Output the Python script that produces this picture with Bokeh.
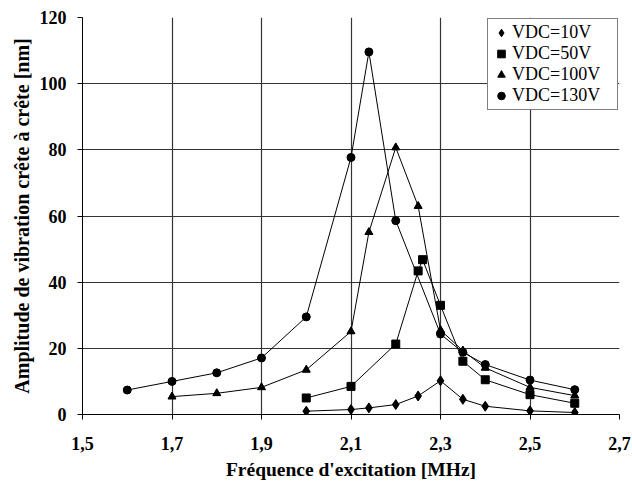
from bokeh.plotting import figure
from bokeh.embed import file_html
from bokeh.resources import INLINE
from bokeh.models import FixedTicker, Range1d, Legend, LegendItem

# ---- data ----
x_10 = [2.0, 2.1, 2.14, 2.2, 2.25, 2.3, 2.35, 2.4, 2.5, 2.6]
y_10 = [1.0, 1.5, 2.0, 3.0, 5.6, 10.2, 4.6, 2.5, 1.1, 0.6]

x_50 = [2.0, 2.1, 2.2, 2.25, 2.26, 2.3, 2.35, 2.4, 2.5, 2.6]
y_50 = [5.0, 8.5, 21.3, 43.4, 46.8, 33.0, 16.1, 10.5, 6.0, 3.4]

x_100 = [1.7, 1.8, 1.9, 2.0, 2.1, 2.14, 2.2, 2.25, 2.3, 2.35, 2.4, 2.5, 2.6]
y_100 = [5.4, 6.4, 8.2, 13.5, 25.1, 55.1, 80.7, 63.0, 25.5, 19.3, 14.1, 8.2, 5.7]

x_130 = [1.6, 1.7, 1.8, 1.9, 2.0, 2.1, 2.14, 2.2, 2.3, 2.35, 2.4, 2.5, 2.6]
y_130 = [7.4, 10.0, 12.6, 17.1, 29.5, 77.7, 109.6, 58.6, 24.3, 18.8, 15.1, 10.4, 7.5]

series_labels = ["VDC=10V", "VDC=50V", "VDC=100V", "VDC=130V"]

x_ticks = [1.5, 1.7, 1.9, 2.1, 2.3, 2.5, 2.7]
x_tick_labels = ["1,5", "1,7", "1,9", "2,1", "2,3", "2,5", "2,7"]
y_ticks = [0, 20, 40, 60, 80, 100, 120]

x_title = "Fréquence d'excitation [MHz]"
y_title = "Amplitude de vibration crête à crête [nm]"

# ---- figure ----
p = figure(width=632, height=488, output_backend="svg", toolbar_location=None,
           x_range=Range1d(1.5, 2.7), y_range=Range1d(0, 120),
           min_border_left=82, min_border_right=13, min_border_top=17, min_border_bottom=74)
p.outline_line_color = None
p.background_fill_color = "white"
p.border_fill_color = "white"

font = "Liberation Serif"
for ax in (p.xaxis[0], p.yaxis[0]):
    ax.major_label_text_font = font
    ax.major_label_text_font_style = "bold"
    ax.major_label_text_font_size = "18px"
    ax.major_label_text_color = "black"
    ax.axis_label_text_font = font
    ax.axis_label_text_font_style = "bold"
    ax.axis_label_text_color = "black"
    ax.axis_line_color = "black"
    ax.major_tick_line_color = "black"
    ax.minor_tick_line_color = None
    ax.major_tick_out = 5
    ax.major_tick_in = 0

p.xaxis.axis_label_text_font_size = "19.5px"
p.yaxis.axis_label_text_font_size = "20px"
p.xaxis.major_label_standoff = 17
p.yaxis.major_label_standoff = 11

p.xaxis.ticker = FixedTicker(ticks=x_ticks)
p.xaxis.major_label_overrides = {t: l for t, l in zip(x_ticks, x_tick_labels)}
p.yaxis.ticker = FixedTicker(ticks=y_ticks)
p.xaxis.axis_label = x_title
p.yaxis.axis_label = y_title
p.xaxis.axis_label_standoff = 6
p.yaxis.axis_label_standoff = 4

p.xgrid.ticker = FixedTicker(ticks=x_ticks)
p.ygrid.ticker = FixedTicker(ticks=y_ticks)
for g in (p.xgrid[0], p.ygrid[0]):
    g.grid_line_color = "#333333"
    g.grid_line_width = 1.2

markers = ["diamond", "square", "triangle", "circle"]
sizes = [10, 8, 8, 8]
legend_sizes = [8, 6, 7, 7]
data = [(x_10, y_10), (x_50, y_50), (x_100, y_100), (x_130, y_130)]
items = []
for (xs, ys), m, s, ls, lab in zip(data, markers, sizes, legend_sizes, series_labels):
    p.line(xs, ys, line_color="black", line_width=1)
    # smaller copy used as legend key (hidden beneath the main markers)
    key = p.scatter(xs, ys, marker=m, size=ls, fill_color="black", line_color="black")
    p.scatter(xs, ys, marker=m, size=s, fill_color="black", line_color="black")
    items.append(LegendItem(label=lab, renderers=[key]))

lg = Legend(items=items, location="top_right")
lg.margin = 1
lg.padding = 3
lg.spacing = -5
lg.border_line_color = "black"
lg.border_line_width = 1
lg.background_fill_alpha = 1
lg.label_text_font = font
lg.label_text_font_size = "18px"
lg.label_text_color = "black"
lg.label_height = 19
lg.glyph_height = 19
lg.glyph_width = 20
lg.label_standoff = 1
lg.label_width = 102
p.add_layout(lg, "center")

open("out.html", "w").write(file_html(p, INLINE))
